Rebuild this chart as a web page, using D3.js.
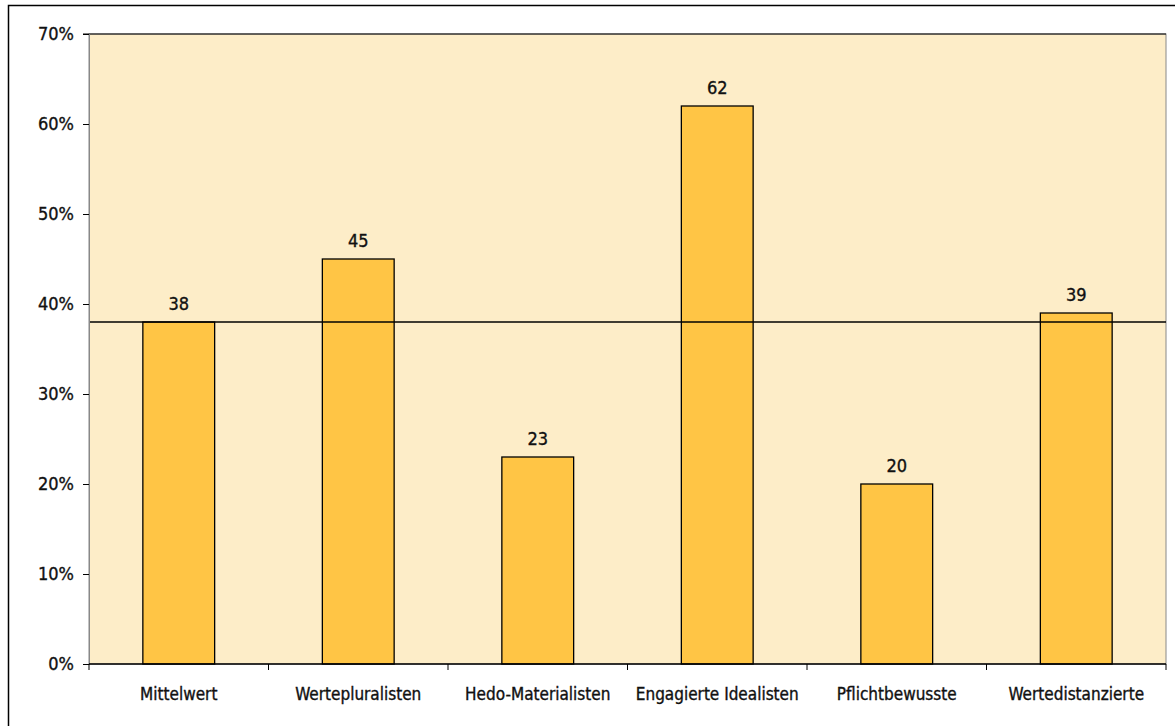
<!DOCTYPE html>
<html>
<head>
<meta charset="utf-8">
<script src="https://cdn.jsdelivr.net/npm/d3@7"></script>
<style>
  body { margin: 0; background: #fff; }
  svg { display: block; }
  .lbl { font-family: "DejaVu Sans Condensed", "DejaVu Sans", sans-serif; font-stretch: condensed; fill: #111; stroke: #111; stroke-width: 0.35px; }
</style>
</head>
<body>
<div id="chart"></div>
<script>
//---------------------------------- Data --------------------
var categories = ["Mittelwert", "Wertepluralisten", "Hedo-Materialisten", "Engagierte Idealisten", "Pflichtbewusste", "Wertedistanzierte"];
var values = [38, 45, 23, 62, 20, 39];
var meanValue = 38;
var yTicks = [0, 10, 20, 30, 40, 50, 60, 70];

//---------------------------------- Layout --------------------
var width = 1175, height = 726;
var plot = {left: 89, top: 34, right: 1166, bottom: 664};

var svg = d3.select("#chart").append("svg")
    .attr("width", width)
    .attr("height", height);

// outer frame (only left/top visible in the picture)
svg.append("rect")
    .attr("x", 8.5).attr("y", 5.5)
    .attr("width", width + 20).attr("height", height + 20)
    .style("fill", "none")
    .style("stroke", "#000")
    .style("stroke-width", 1.5);

var x_scale = d3.scaleBand()
    .domain(categories)
    .range([plot.left, plot.right])
    .paddingInner(0.6)
    .paddingOuter(0.3);

var y_scale = d3.scaleLinear()
    .domain([0, 70])
    .range([plot.bottom, plot.top]);

// ---------- plot background ----------
svg.append("rect")
    .attr("x", plot.left)
    .attr("y", plot.top)
    .attr("width", plot.right - plot.left)
    .attr("height", plot.bottom - plot.top)
    .style("fill", "#fdedc8")
    .style("stroke", "#888")
    .style("stroke-width", 1);

// ---------- bars ----------
svg.selectAll(".bar")
    .data(values)
    .enter().append("rect")
    .attr("class", "bar")
    .attr("x", function(d, i) { return x_scale(categories[i]); })
    .attr("y", function(d) { return y_scale(d); })
    .attr("width", x_scale.bandwidth())
    .attr("height", function(d) { return y_scale(0) - y_scale(d); })
    .style("fill", "#ffc545")
    .style("stroke", "#000")
    .style("stroke-width", 1.3);

// value labels
svg.selectAll(".val")
    .data(values)
    .enter().append("text")
    .attr("class", "lbl val")
    .attr("x", function(d, i) { return x_scale(categories[i]) + x_scale.bandwidth() / 2; })
    .attr("y", function(d) { return y_scale(d) - 12; })
    .attr("text-anchor", "middle")
    .style("font-size", "18px")
    .text(function(d) { return d; });

// ---------- mean line ----------
svg.append("line")
    .attr("x1", plot.left).attr("x2", plot.right)
    .attr("y1", y_scale(meanValue)).attr("y2", y_scale(meanValue))
    .style("stroke", "#000")
    .style("stroke-width", 1.3);

// top edge of plot
svg.append("line")
    .attr("x1", plot.left - 6).attr("x2", plot.right)
    .attr("y1", plot.top).attr("y2", plot.top)
    .style("stroke", "#000")
    .style("stroke-width", 1);

// ---------- y axis ----------
var yAxis = d3.axisLeft(y_scale)
    .tickValues(yTicks)
    .tickSize(6)
    .tickPadding(9)
    .tickFormat(function(d) { return d + "%"; });

var gy = svg.append("g")
    .attr("transform", "translate(" + plot.left + ",0)")
    .call(yAxis);
gy.select(".domain").style("stroke", "#888");
gy.selectAll("line").style("stroke", "#000");
gy.selectAll("text")
    .attr("class", "lbl")
    .style("font-size", "18px");

// ---------- x axis ----------
var bounds = d3.range(categories.length + 1).map(function(i) {
    return plot.left + i * (plot.right - plot.left) / categories.length;
});
svg.append("line")
    .attr("x1", plot.left).attr("x2", plot.right)
    .attr("y1", plot.bottom).attr("y2", plot.bottom)
    .style("stroke", "#000")
    .style("stroke-width", 1.3);
svg.selectAll(".xtick")
    .data(bounds)
    .enter().append("line")
    .attr("class", "xtick")
    .attr("x1", function(d) { return d; }).attr("x2", function(d) { return d; })
    .attr("y1", plot.bottom).attr("y2", plot.bottom + 6)
    .style("stroke", "#000");

svg.selectAll(".cat")
    .data(categories)
    .enter().append("text")
    .attr("class", "lbl cat")
    .attr("x", function(d) { return x_scale(d) + x_scale.bandwidth() / 2; })
    .attr("y", 700)
    .attr("text-anchor", "middle")
    .style("font-size", "17px")
    .text(function(d) { return d; });
</script>
</body>
</html>
